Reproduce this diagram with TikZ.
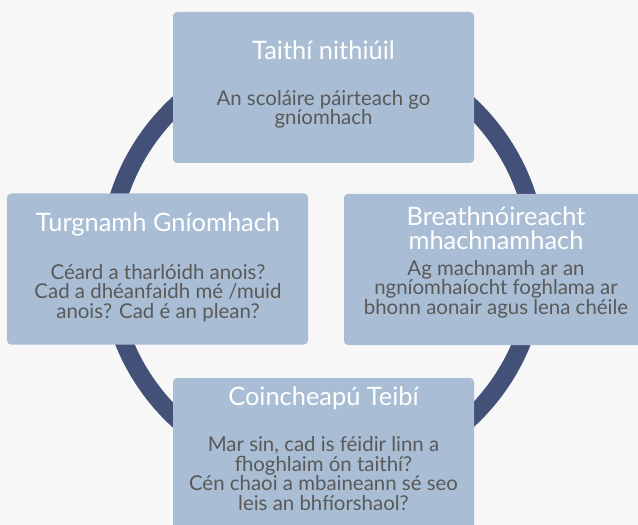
\documentclass[tikz,border=0pt]{standalone}
\usepackage{fontspec}
\setmainfont{Lato}

\definecolor{bgGray}{HTML}{F7F7F7}
\definecolor{boxBlue}{HTML}{A9BED4}
\definecolor{ringNavy}{HTML}{435179}
\definecolor{bodyGray}{HTML}{595959}

\begin{document}
\begin{tikzpicture}[x=1bp, y=-1bp, line cap=round, line join=round]

% ---------------- styles ----------------
\tikzset{
  cycBox/.style   ={fill=boxBlue, rounded corners=4bp, inner sep=0pt,
                    minimum width=301bp, minimum height=151bp},
  cycTitle/.style ={text=white, align=center, anchor=base, inner sep=0pt,
                    font=\fontsize{25.5}{25}\selectfont},
  cycBody/.style  ={text=bodyGray, align=center, anchor=base, inner sep=0pt,
                    font=\fontsize{20.5}{19.5}\selectfont},
  cycRing/.style  ={draw=ringNavy, line width=18bp}
}

% ---------------- parameters ----------------
\def\Cx{323}    % ring centre x
\def\Cy{262}    % ring centre y
\def\R{214.5}   % ring radius (middle of the band)

% ---------------- canvas ----------------
\fill[bgGray] (0,0) rectangle (638,525);
\useasboundingbox (0,0) rectangle (638,525);
\clip (0,0) rectangle (638,525);

% ---------------- ring behind the boxes ----------------
\draw[cycRing] (\Cx,\Cy) circle[radius=\R];

% ---------------- the four boxes ----------------
\node[cycBox] (expBox)  at (323.5, 87.5) {};
\node[cycBox] (actBox)  at (157.5,269)   {};
\node[cycBox] (refBox)  at (494.5,269.5) {};
\node[cycBox] (conBox)  at (323.5,453.5) {};

% ---------------- texts (base = last line) ----------------
\node[cycTitle] (expTitle) at (323.5, 60) {Taithí nithiúil};
\node[cycBody]  (expBody)  at (323.5,125) {An scoláire páirteach go\\gníomhach};

\node[cycTitle] (actTitle) at (158,232) {Turgnamh Gníomhach};
\node[cycBody]  (actBody)  at (158,318) {Céard a tharlóidh anois?\\Cad a dhéanfaidh mé /muid\\anois? Cad é an plean?};

\node[cycTitle] (refTitle) at (496,250) {Breathnóireacht\\mhachnamhach};
\node[cycBody]  (refBody)  at (496,314) {Ag machnamh ar an\\ngníomhaíocht foghlama ar\\bhonn aonair agus lena chéile};

\node[cycTitle] (conTitle) at (323.5,405) {Coincheapú Teibí};
\node[cycBody]  (conBody)  at (323.5,510) {Mar sin, cad is féidir linn a\\fhoghlaim ón taithí?\\Cén chaoi a mbaineann sé seo\\leis an bhfíorshaol?};

\end{tikzpicture}
\end{document}
